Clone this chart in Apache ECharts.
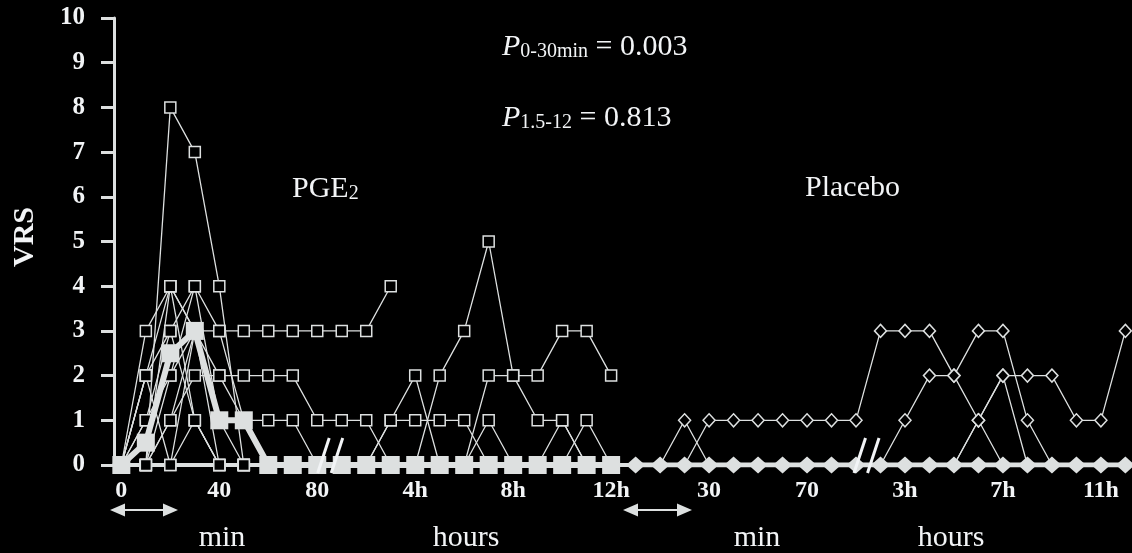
<!DOCTYPE html>
<html><head><meta charset="utf-8">
<script src="https://cdn.jsdelivr.net/npm/echarts@6/dist/echarts.min.js"></script>
<style>html,body{margin:0;padding:0;background:#000;}#c{width:1132px;height:553px;}</style>
</head><body><div id="c"></div>
<script>
// x categories (0-20: PGE2 block, 21-41: placebo block)
const categories = ['0','10','20','30','40','50','60','70','80','1.5h','2h','3h','4h','5h','6h','7h','8h','9h','10h','11h','12h',
  '0','10','20','30','40','50','60','70','80','1.5h','2h','3h','4h','5h','6h','7h','8h','9h','10h','11h','12h'];
const tickIndex = [0,4,8,12,16,20,24,28,32,36,40];
const breakIndex = [8.55, 30.45];
const placeboStart = 21;

// PGE2 median and patients
const pgeMedian = [0,0.5,2.5,3,1,1,0,0,0,0,0,0,0,0,0,0,0,0,0,0,0];
const pge1  = [0,0,8,7,4,0,0,0,0,0,0,0,0,0,0,0,0,0,0,0,0];
const pge2  = [0,3,4,3,3,3,3,3,3,3,3,4];
const pge3  = [0,2,4,3,2,2,2,2,1,1,1,0,0,0,0,0,0,0,0,0,0];
const pge4  = [0,1,3,4,1,1,1,1,0,0,0,0,0,0,0,0,0,0,0,0,0];
const pge5  = [0,0,2,4,3,1,0,0,0,0,0,0,0,0,0,0,0,0,0,0,0];
const pge6  = [0,2,3,1,0,0,0,0,0,0,0,0,0,0,0,0,0,0,0,0,0];
const pge7  = [0,0,1,2,2,1,0,0,0,0,0,0,0,0,0,0,0,0,0,0,0];
const pge8  = [0,0,4,1,0,0,0,0,0,0,0,1,2,0,0,0,0,0,0,0,0];
const pge9  = [0,1,2,3,1,1,0,0,0,0,0,0,0,2,3,5,2,1,1,0,0];
const pge10 = [0,0,0,3,0,0,0,0,0,0,0,0,0,0,0,2,2,2,3,3,2];
const pge11 = [0,0,1,3,1,0,0,0,0,0,0,1,1,1,1,0,0,0,1,0,0];
const pge12 = [0,2,0,1,0,0,0,0,0,0,0,0,0,0,0,1,0,0,0,1,0];

// Placebo median and patients
const placeboMedian = [0,0,0,0,0,0,0,0,0,0,0,0,0,0,0,0,0,0,0,0,0];
const plc1 = [0,0,1,0,0,0,0,0,0,0,0,0,0,0,0,0,0,0,0,0,0];
const plc2 = [0,0,0,1,1,1,1,1,1,1,3,3,3,2,1,0,0,0,0,0,0];
const plc3 = [0,0,0,0,0,0,0,0,0,0,0,1,2,2,3,3,1,0,0,0,0];
const plc4 = [0,0,0,0,0,0,0,0,0,0,0,0,0,0,1,2,2,2,1,1,3];
const plc5 = [0,0,0,0,0,0,0,0,0,0,0,0,0,0,1,2,0,0,0,0,0];

const pgePatients = [pge1,pge2,pge3,pge4,pge5,pge6,pge7,pge8,pge9,pge10,pge11,pge12];
const placeboPatients = [plc1,plc2,plc3,plc4,plc5];

const C = '#dde0e0';
const TXT = '#f2f4f6';
const SERIF = '"Liberation Serif","Times New Roman",serif';

function toXY(arr, start){ return arr.map((v,i)=>[start+i, v]); }

const series = [];
pgePatients.forEach(a => series.push({
  type:'line', data: toXY(a,0), symbol:'rect', symbolSize:11, z:2,
  lineStyle:{color:C,width:1.3}, itemStyle:{color:'#000',borderColor:C,borderWidth:1.5},
  emphasis:{disabled:true}, animation:false
}));
placeboPatients.forEach(a => series.push({
  type:'line', data: toXY(a,placeboStart), symbol:'diamond', symbolSize:[12,13], z:2,
  lineStyle:{color:C,width:1.3}, itemStyle:{color:'#000',borderColor:C,borderWidth:1.5},
  emphasis:{disabled:true}, animation:false
}));
series.push({
  type:'line', data: toXY(pgeMedian,0), symbol:'rect', symbolSize:18, z:5,
  lineStyle:{color:C,width:6}, itemStyle:{color:C},
  emphasis:{disabled:true}, animation:false
});
series.push({
  type:'line', data: toXY(placeboMedian,placeboStart), symbol:'diamond', symbolSize:[19,17], z:5,
  lineStyle:{color:C,width:5}, itemStyle:{color:C},
  emphasis:{disabled:true}, animation:false
});

const chart = echarts.init(document.getElementById('c'));
chart.setOption({
  backgroundColor:'#000',
  animation:false,
  grid:{left:114,right:0,top:18,bottom:88,containLabel:false,outerBoundsMode:'none'},
  xAxis:{
    type:'value', min:-0.3, max:41.27,
    axisLine:{show:true,onZero:false,lineStyle:{color:C,width:4}},
    axisTick:{show:false}, splitLine:{show:false},
    axisLabel:{customValues:tickIndex, formatter:v=>categories[v], color:TXT,
      fontFamily:SERIF, fontWeight:'bold', fontSize:24, margin:14}
  },
  yAxis:{
    type:'value', min:0, max:10, interval:1,
    axisLine:{show:true,onZero:false,lineStyle:{color:C,width:3}},
    axisTick:{show:true,length:13,lineStyle:{color:C,width:3}},
    splitLine:{show:false},
    axisLabel:{color:TXT, fontFamily:SERIF, fontWeight:'bold', fontSize:25, margin:29}
  },
  series: series
});

// annotations
const y0 = chart.convertToPixel({yAxisIndex:0}, 0);
const g = [];
breakIndex.forEach(b => {
  const cx = chart.convertToPixel({xAxisIndex:0}, b);
  g.push({type:'line', z:20, shape:{x1:cx-13,y1:y0+8,x2:cx-1.5,y2:y0-27}, style:{stroke:TXT,lineWidth:3}});
  g.push({type:'line', z:20, shape:{x1:cx+0.5,y1:y0+8,x2:cx+12,y2:y0-27}, style:{stroke:TXT,lineWidth:3}});
});
function arrow(x1,x2,y){
  return [
    {type:'line', z:20, shape:{x1:x1+10,y1:y,x2:x2-10,y2:y}, style:{stroke:C,lineWidth:2}},
    {type:'polygon', z:20, shape:{points:[[x1,y],[x1+15,y-6.5],[x1+15,y+6.5]]}, style:{fill:C}},
    {type:'polygon', z:20, shape:{points:[[x2,y],[x2-15,y-6.5],[x2-15,y+6.5]]}, style:{fill:C}}
  ];
}
g.push(...arrow(110,178,510));
g.push(...arrow(623,692,510));
function label(text,x,y,align){
  return {type:'text', z:20, x:x, y:y, style:{text:text, fill:TXT, font:'30px '+SERIF, align:align||'center', verticalAlign:'middle'}};
}
g.push(label('min',222,538));
g.push(label('hours',466,538));
g.push(label('min',757,538));
g.push(label('hours',951,538));
g.push(label('Placebo',805,188,'left'));
g.push({type:'text', z:20, x:25, y:237, rotation:Math.PI/2,
  style:{text:'VRS', fill:TXT, font:'bold 30px '+SERIF, align:'center', verticalAlign:'middle'}});
const rich = {
  p:{fontFamily:SERIF, fontStyle:'italic', fontSize:30, fill:TXT, verticalAlign:'bottom', lineHeight:30},
  s:{fontFamily:SERIF, fontSize:20, fill:TXT, verticalAlign:'bottom', lineHeight:18},
  n:{fontFamily:SERIF, fontSize:30, fill:TXT, verticalAlign:'bottom', lineHeight:30}
};
g.push({type:'text', z:20, x:502, y:47, style:{text:'{p|P}{s|0-30min}{n| = 0.003}', rich:rich, align:'left', verticalAlign:'middle'}});
g.push({type:'text', z:20, x:502, y:118, style:{text:'{p|P}{s|1.5-12}{n| = 0.813}', rich:rich, align:'left', verticalAlign:'middle'}});
g.push({type:'text', z:20, x:292, y:189, style:{text:'{n|PGE}{s|2}', rich:{
  n:{fontFamily:SERIF, fontSize:30, fill:TXT, verticalAlign:'bottom', lineHeight:30},
  s:{fontFamily:SERIF, fontSize:20, fill:TXT, verticalAlign:'bottom', lineHeight:16}
}, align:'left', verticalAlign:'middle'}});
chart.setOption({graphic:g});
</script>
</body></html>
